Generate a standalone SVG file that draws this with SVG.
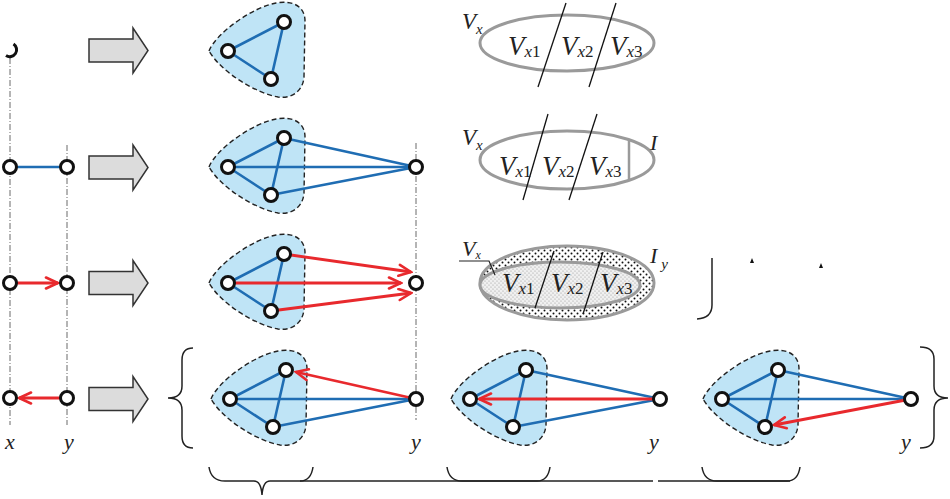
<svg xmlns="http://www.w3.org/2000/svg" width="950" height="499" viewBox="0 0 950 499">
<style>
.n{fill:#fff;stroke:#111;stroke-width:3}
.b{stroke:#1f6db3;stroke-width:2.6;fill:none}
.r{stroke:#e8292d;stroke-width:2.8;fill:none}
.blob{fill:#bfe4f6;stroke:#222;stroke-width:1.4;stroke-dasharray:5,3}
.dd{stroke:#444;stroke-width:0.8;stroke-dasharray:6,2,1,2;fill:none}
.ga{fill:#dcdcdc;stroke:#333;stroke-width:1.5}
.el{fill:none;stroke:#9a9a9a;stroke-width:3}
.sl{stroke:#111;stroke-width:1.3}
.t{font-family:"Liberation Serif","DejaVu Serif",serif;font-style:italic;fill:#222}
.up{font-style:normal}
.br{fill:none;stroke:#222;stroke-width:1.5}
</style>
<defs>
<marker id="ah" viewBox="0 0 16 14" refX="14" refY="7" markerWidth="16" markerHeight="14" markerUnits="userSpaceOnUse" orient="auto"><path d="M2,1.5 L14,7 L2,12.5" fill="none" stroke="#e8292d" stroke-width="2.6" stroke-linecap="round"/></marker>
<path id="blobp" d="M-19,0 C-12,-18 25,-44 48,-48 C66,-51 77,-44 77,-30 L76,26 C75,40 64,48 50,46 C28,42 -6,22 -19,0 Z"/>
<polygon id="garr" points="89,-11.5 133,-11.5 133,-22.5 148,0 133,22.5 133,11.5 89,11.5"/>
<pattern id="dk" width="6" height="6" patternUnits="userSpaceOnUse"><rect width="6" height="6" fill="#fff"/><circle cx="1.5" cy="1.5" r="1" fill="#111"/><circle cx="4.5" cy="4.5" r="1" fill="#111"/></pattern>
<pattern id="lt" width="4" height="4" patternUnits="userSpaceOnUse"><rect width="4" height="4" fill="#f0f0f0"/><circle cx="1" cy="1" r="0.6" fill="#999"/><circle cx="3" cy="3" r="0.6" fill="#999"/></pattern>
</defs>
<rect width="950" height="499" fill="#fff"/>

<g id="guides">
<line class="dd" x1="10" y1="58" x2="10" y2="425"/>
<line class="dd" x1="67" y1="145" x2="67" y2="425"/>
<line class="dd" x1="416" y1="143" x2="416" y2="420"/>
</g>

<g id="block-arrows" class="ga">
<use href="#garr" transform="translate(0,50.5)"/>
<use href="#garr" transform="translate(0,167.5)"/>
<use href="#garr" transform="translate(0,283)"/>
<use href="#garr" transform="translate(0,399)"/>
</g>

<g id="blob-r1" class="blob"><use href="#blobp" transform="translate(228,51)"/></g>
<g id="blob-r2" class="blob"><use href="#blobp" transform="translate(228,167)"/></g>
<g id="blob-r3" class="blob"><use href="#blobp" transform="translate(228,283)"/></g>
<g id="blob-r4a" class="blob"><use href="#blobp" transform="translate(230,399)"/></g>
<g id="blob-r4b" class="blob"><use href="#blobp" transform="translate(470,399)"/></g>
<g id="blob-r4c" class="blob"><use href="#blobp" transform="translate(722,399)"/></g>

<g id="connectors">
<line class="b" x1="10" y1="167" x2="67" y2="167"/>
<line class="r" x1="10" y1="283" x2="58" y2="283" marker-end="url(#ah)"/>
<line class="r" x1="67" y1="398" x2="19" y2="398" marker-end="url(#ah)"/>
<path class="b" d="M228,51 L284,22 L271,79 Z"/>
<path class="b" d="M228,167 L284,138 L271,195 Z"/>
<line class="b" x1="284" y1="138" x2="416" y2="167"/>
<line class="b" x1="228" y1="167" x2="416" y2="167"/>
<line class="b" x1="271" y1="195" x2="416" y2="167"/>
<path class="b" d="M228,283 L284,254 L271,311 Z"/>
<line class="r" x1="284" y1="254" x2="411" y2="272" marker-end="url(#ah)"/>
<line class="r" x1="228" y1="283" x2="401" y2="283" marker-end="url(#ah)"/>
<line class="r" x1="271" y1="311" x2="411" y2="293" marker-end="url(#ah)"/>
<path class="b" d="M230,399 L286,370 L273,427 Z"/>
<line class="b" x1="230" y1="399" x2="416" y2="399"/>
<line class="b" x1="273" y1="427" x2="416" y2="399"/>
<line class="r" x1="416" y1="399" x2="296" y2="372" marker-end="url(#ah)"/>
<path class="b" d="M470,399 L526,370 L513,427 Z"/>
<line class="b" x1="526" y1="370" x2="660" y2="399"/>
<line class="b" x1="513" y1="427" x2="660" y2="399"/>
<line class="r" x1="660" y1="399" x2="479" y2="399" marker-end="url(#ah)"/>
<path class="b" d="M722,399 L778,370 L765,427 Z"/>
<line class="b" x1="778" y1="370" x2="911" y2="399"/>
<line class="b" x1="722" y1="399" x2="911" y2="399"/>
<line class="r" x1="911" y1="399" x2="774" y2="425" marker-end="url(#ah)"/>
</g>

<g id="n-r1-partial"><path d="M13.5,44 A6.5,6.5 0 0 1 6,55.5" fill="none" stroke="#111" stroke-width="3"/></g>
<g id="n-r2-x"><circle class="n" cx="10" cy="167" r="6.5"/></g>
<g id="n-r2-y"><circle class="n" cx="67" cy="167" r="6.5"/></g>
<g id="n-r3-x"><circle class="n" cx="10" cy="283" r="6.5"/></g>
<g id="n-r3-y"><circle class="n" cx="67" cy="283" r="6.5"/></g>
<g id="n-r4-x"><circle class="n" cx="10" cy="398" r="6.5"/></g>
<g id="n-r4-y"><circle class="n" cx="67" cy="398" r="6.5"/></g>

<g id="n-c1-l"><circle class="n" cx="228" cy="51" r="6.5"/></g>
<g id="n-c1-t"><circle class="n" cx="284" cy="22" r="6.5"/></g>
<g id="n-c1-b"><circle class="n" cx="271" cy="79" r="6.5"/></g>

<g id="n-c2-l"><circle class="n" cx="228" cy="167" r="6.5"/></g>
<g id="n-c2-t"><circle class="n" cx="284" cy="138" r="6.5"/></g>
<g id="n-c2-b"><circle class="n" cx="271" cy="195" r="6.5"/></g>
<g id="n-c2-y"><circle class="n" cx="416" cy="167" r="6.5"/></g>

<g id="n-c3-l"><circle class="n" cx="228" cy="283" r="6.5"/></g>
<g id="n-c3-t"><circle class="n" cx="284" cy="254" r="6.5"/></g>
<g id="n-c3-b"><circle class="n" cx="271" cy="311" r="6.5"/></g>
<g id="n-c3-y"><circle class="n" cx="416" cy="283" r="6.5"/></g>

<g id="n-c4a-l"><circle class="n" cx="230" cy="399" r="6.5"/></g>
<g id="n-c4a-t"><circle class="n" cx="286" cy="370" r="6.5"/></g>
<g id="n-c4a-b"><circle class="n" cx="273" cy="427" r="6.5"/></g>
<g id="n-c4a-y"><circle class="n" cx="416" cy="399" r="6.5"/></g>

<g id="n-c4b-l"><circle class="n" cx="470" cy="399" r="6.5"/></g>
<g id="n-c4b-t"><circle class="n" cx="526" cy="370" r="6.5"/></g>
<g id="n-c4b-b"><circle class="n" cx="513" cy="427" r="6.5"/></g>
<g id="n-c4b-y"><circle class="n" cx="660" cy="399" r="6.5"/></g>

<g id="n-c4c-l"><circle class="n" cx="722" cy="399" r="6.5"/></g>
<g id="n-c4c-t"><circle class="n" cx="778" cy="370" r="6.5"/></g>
<g id="n-c4c-b"><circle class="n" cx="765" cy="427" r="6.5"/></g>
<g id="n-c4c-y"><circle class="n" cx="911" cy="399" r="6.5"/></g>

<g id="labels-xy" class="t" font-size="22" text-anchor="middle">
<text x="10" y="449">x</text>
<text x="69" y="449">y</text>
<text x="416" y="449">y</text>
<text x="654" y="449">y</text>
<text x="906" y="449">y</text>
</g>

<g id="set-r1">
<ellipse class="el" cx="567" cy="43" rx="87" ry="28"/>
<line class="sl" x1="566" y1="3" x2="538" y2="87"/>
<line class="sl" x1="616" y1="3" x2="589" y2="87"/>
<text class="t" x="462" y="29" font-size="23">V<tspan font-size="15" dy="5">x</tspan></text>
<text class="t" x="508" y="55" font-size="27">V<tspan font-size="17" dy="2">x</tspan><tspan class="up" font-size="17">1</tspan></text>
<text class="t" x="561" y="55" font-size="27">V<tspan font-size="17" dy="2">x</tspan><tspan class="up" font-size="17">2</tspan></text>
<text class="t" x="610" y="55" font-size="27">V<tspan font-size="17" dy="2">x</tspan><tspan class="up" font-size="17">3</tspan></text>
</g>

<g id="set-r2">
<ellipse class="el" cx="567" cy="160" rx="87" ry="29"/>
<line x1="629" y1="140" x2="629" y2="180" stroke="#9a9a9a" stroke-width="2.5"/>
<line class="sl" x1="548" y1="114" x2="523" y2="200"/>
<line class="sl" x1="597" y1="114" x2="569" y2="200"/>
<text class="t" x="462" y="145" font-size="23">V<tspan font-size="15" dy="5">x</tspan></text>
<text class="t" x="650" y="150" font-size="22">I</text>
<text class="t" x="499" y="175" font-size="27">V<tspan font-size="17" dy="2">x</tspan><tspan class="up" font-size="17">1</tspan></text>
<text class="t" x="542" y="175" font-size="27">V<tspan font-size="17" dy="2">x</tspan><tspan class="up" font-size="17">2</tspan></text>
<text class="t" x="589" y="175" font-size="27">V<tspan font-size="17" dy="2">x</tspan><tspan class="up" font-size="17">3</tspan></text>
</g>

<g id="set-r3">
<ellipse cx="567" cy="283" rx="87" ry="37" fill="url(#dk)" stroke="#9a9a9a" stroke-width="3"/>
<ellipse cx="560" cy="285" rx="80" ry="23" fill="url(#lt)" stroke="#9a9a9a" stroke-width="3"/>
<line class="sl" x1="554" y1="251" x2="535" y2="308"/>
<line class="sl" x1="603" y1="252" x2="583" y2="314"/>
<polyline points="459,261 489,261 495,275" fill="none" stroke="#222" stroke-width="1.2"/>
<text class="t" x="462" y="256" font-size="22">V<tspan font-size="12" dy="3">x</tspan></text>
<text class="t" x="650" y="263" font-size="22">I<tspan font-size="15" dy="6" dx="4">y</tspan></text>
<text class="t" x="502" y="292" font-size="27">V<tspan font-size="17" dy="2">x</tspan><tspan class="up" font-size="17">1</tspan></text>
<text class="t" x="551" y="292" font-size="27">V<tspan font-size="17" dy="2">x</tspan><tspan class="up" font-size="17">2</tspan></text>
<text class="t" x="600" y="292" font-size="27">V<tspan font-size="17" dy="2">x</tspan><tspan class="up" font-size="17">3</tspan></text>
</g>

<g id="fragments">
<path class="br" d="M712,258 L712,305 Q712,318 697,319"/>
<polygon points="750,263 752,258 754,263" fill="#111"/>
<polygon points="819,268 821,263 823,268" fill="#111"/>
</g>

<g id="braces" class="br">
<path d="M193,348 Q182,348 182,360 L182,386 Q182,398 168,398 Q182,398 182,410 L182,436 Q182,448 193,448"/>
<path d="M920,347 Q934,347 934,359 L934,386 Q934,398 948,398 Q934,398 934,410 L934,436 Q934,448 920,448"/>
<path d="M209,467 Q211,481 225,481 L254,481 Q261,481 262,495 Q263,481 270,481 L300,481 Q311,481 313,467"/>
<path d="M300,481 L653,481 M658,481 L790,481"/>
<path d="M447,467 Q449,481 462,481 L537,481 Q548,481 550,467"/>
<path d="M702,467 Q704,481 717,481 L787,481 Q798,481 800,467"/>
</g>
</svg>
